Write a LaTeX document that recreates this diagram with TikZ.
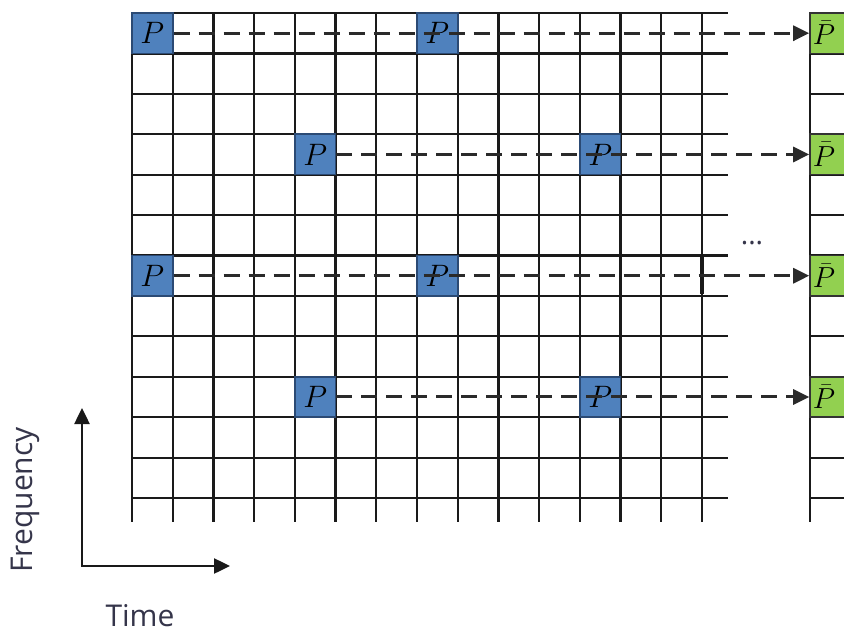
\RequirePackage{fix-cm}
\documentclass[tikz,border=0pt]{standalone}
\usepackage{fontspec}
\setmainfont{Open Sans}
\usetikzlibrary{arrows.meta}
\definecolor{pblue}{HTML}{4F81BD}
\definecolor{pblueedge}{HTML}{2B4A74}
\definecolor{pgreen}{HTML}{92D050}
\definecolor{gridc}{HTML}{1A1A1A}
\definecolor{dashc}{HTML}{2A2A2A}
\definecolor{labc}{HTML}{35354A}
\begin{document}
\begin{tikzpicture}[x=1pt,y=-1pt,
  gridline/.style={line width=2.2pt, draw=gridc},
  pbox/.style={draw=pblueedge, fill=pblue, line width=1.6pt, minimum width=40.7pt, minimum height=40.4pt, inner sep=0pt, font=\fontsize{31}{34}\selectfont},
  gbox/.style={draw=black!80, fill=pgreen, line width=1.6pt, minimum width=40.7pt, minimum height=40.4pt, inner xsep=0pt, inner ysep=0pt, text width=35pt, align=left, font=\fontsize{29}{32}\selectfont},
  pilot/.style={draw=dashc, line width=3pt, dash pattern=on 16pt off 9pt, -{Triangle[length=16pt,width=15pt]}},
  axis/.style={line width=2.5pt, draw=black!90, {Triangle[length=16pt,width=15pt]}-{Triangle[length=16pt,width=15pt]}},
  lab/.style={font=\fontsize{30}{36}\selectfont, text=labc, inner sep=0pt}
]
\useasboundingbox (0,0) rectangle (844,634);
\clip (0,0) rectangle (844,634);

% main time-frequency grid
\foreach \i in {0,...,14}
  \draw[gridline] ({132+40.714*\i},13) -- ({132+40.714*\i},522);
\foreach \j in {0,...,12}
  \draw[gridline] (132,{13+40.42*\j}) -- (728,{13+40.42*\j});
\draw[line width=3.2pt, draw=gridc] (702,257) -- (702,294);

% right-hand column
\draw[gridline] (810,13) -- (810,522);
\foreach \j in {0,...,12}
  \draw[gridline] (810,{13+40.42*\j}) -- (844,{13+40.42*\j});

% pilot boxes
\node[pbox] (p1a) at (152.36,33.21) {$P$};
\node[pbox] (p1b) at (437.36,33.21) {$P$};
\node[pbox] (p4a) at (315.21,154.47) {$P$};
\node[pbox] (p4b) at (600.21,154.47) {$P$};
\node[pbox] (p7a) at (152.36,275.73) {$P$};
\node[pbox] (p7b) at (437.36,275.73) {$P$};
\node[pbox] (p10a) at (315.21,396.99) {$P$};
\node[pbox] (p10b) at (600.21,396.99) {$P$};

% averaged pilots
\node[gbox] (g1) at (830.35,33.21) {$\bar{P}$};
\node[gbox] (g4) at (830.35,154.47) {$\bar{P}$};
\node[gbox] (g7) at (830.35,275.73) {$\bar{P}$};
\node[gbox] (g10) at (830.35,396.99) {$\bar{P}$};

% dashed arrows
\draw[pilot] (p1a.east) -- (g1.west);
\draw[pilot] (p4a.east) -- (g4.west);
\draw[pilot] (p7a.east) -- (g7.west);
\draw[pilot] (p10a.east) -- (g10.west);

% ellipsis
\node[text=labc, inner sep=0pt, font=\fontsize{28}{30}\selectfont] (dots) at (752,243) {...};

% axes
\coordinate (fTop) at (82,408);
\coordinate (origin) at (82,566);
\coordinate (tEnd) at (230,566);
\draw[axis] (fTop) -- (origin) -- (tEnd);
\node[lab, rotate=90] (freq) at (25,500) {Frequency};
\node[lab] (time) at (140,616) {Time};
\end{tikzpicture}
\end{document}
